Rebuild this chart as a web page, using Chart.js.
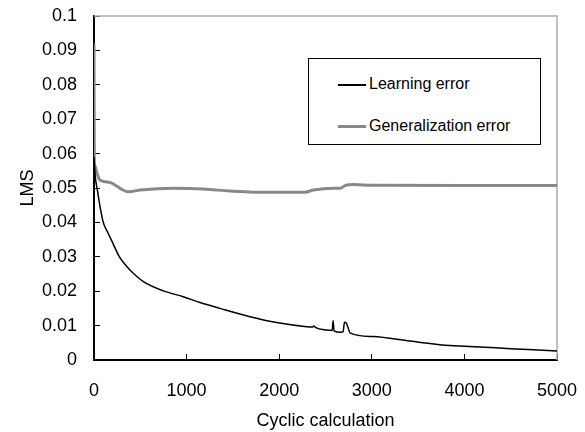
<!DOCTYPE html>
<html>
<head>
<meta charset="utf-8">
<script src="https://cdn.jsdelivr.net/npm/chart.js@4/dist/chart.umd.min.js"></script>
<style>
    body { margin: 0; background: #fff; }
    #wrap { position: relative; width: 585px; height: 432px; }
    #legend {
        position: absolute; left: 308px; top: 58px; width: 231px; height: 85px;
        border: 1px solid #000; background: #fff;
        font-family: "Liberation Sans", Arial, sans-serif; font-size: 16px; color: #000;
    }
    .item { position: absolute; left: 29px; height: 20px; line-height: 20px; white-space: nowrap; }
    .swatch { display: inline-block; width: 28px; vertical-align: middle; margin-right: 3px; }
</style>
</head>
<body>
<div id="wrap">
    <canvas id="myChart" width="585" height="432"></canvas>
    <div id="legend"></div>
</div>
<script>
let seriesNames = ["Learning error", "Generalization error"]

let learnX = [0, 15, 36, 65, 100, 150, 208, 270, 340, 424, 533, 749, 965, 1145, 1361, 1685, 1973, 2297, 2360, 2375, 2390, 2513, 2572, 2582, 2592, 2657, 2690, 2705, 2725, 2745, 2765, 3016, 3412, 3844, 4000, 4500, 5000]
let learnY = [0.059, 0.053, 0.0495, 0.0446, 0.040, 0.037, 0.0337, 0.0302, 0.0276, 0.0252, 0.0228, 0.0201, 0.0184, 0.0167, 0.015, 0.0126, 0.0109, 0.0097, 0.0096, 0.0099, 0.0095, 0.0087, 0.0086, 0.0114, 0.0085, 0.0081, 0.0082, 0.011, 0.0107, 0.0093, 0.0079, 0.0068, 0.0055, 0.0042, 0.004, 0.0033, 0.0026]

let genX = [0, 3, 10, 30, 65, 173, 250, 300, 370, 500, 860, 1180, 1470, 1720, 2280, 2370, 2585, 2660, 2700, 2730, 2800, 3000, 4000, 5000]
let genY = [0.092, 0.0575, 0.0565, 0.0545, 0.0523, 0.0516, 0.0505, 0.0496, 0.0489, 0.0494, 0.0499, 0.0497, 0.0491, 0.0488, 0.0488, 0.0494, 0.0499, 0.0499, 0.0505, 0.0509, 0.051, 0.0508, 0.0507, 0.0507]

let colors = ["#000000", "#888888"]
let widths = [1.5, 3]

function toPoints(xs, ys) {
    let pts = []
    for (let i = 0; i < xs.length; i++) {
        pts.push({ x: xs[i], y: ys[i] })
    }
    return pts
}

Chart.defaults.font.family = '"Liberation Sans", Arial, sans-serif'
Chart.defaults.color = "#000"

// gray frame on top and right of the plot area
let framePlugin = {
    id: "frame",
    beforeDatasetsDraw(chart) {
        let a = chart.chartArea
        let c = chart.ctx
        c.save()
        c.strokeStyle = "#aaaaaa"
        c.lineWidth = 1.5
        c.beginPath()
        c.moveTo(a.left, a.top)
        c.lineTo(a.right, a.top)
        c.lineTo(a.right, a.bottom)
        c.stroke()
        c.restore()
    },
}

let data = {
    datasets: [{
        label: seriesNames[0],
        data: toPoints(learnX, learnY),
        borderColor: colors[0],
        borderWidth: widths[0],
    }, {
        label: seriesNames[1],
        data: toPoints(genX, genY),
        borderColor: colors[1],
        borderWidth: widths[1],
    }],
}

let config = {
    type: "line",
    data: data,
    plugins: [framePlugin],
    options: {
        responsive: false,
        animation: false,
        layout: { padding: { left: 0, right: 28, top: 16, bottom: 0 } },
        elements: {
            point: { radius: 0 },
            line: { cubicInterpolationMode: "monotone" },
        },
        plugins: {
            legend: { display: false },
            tooltip: { enabled: false },
        },
        scales: {
            x: {
                type: "linear",
                min: 0,
                max: 5000,
                afterFit: (s) => {
                    s.height = 72
                    s.paddingLeft = 0
                    s.paddingRight = 0
                },
                border: { color: "#000", width: 2 },
                grid: { drawOnChartArea: false, tickLength: -6, color: "#000" },
                ticks: {
                    stepSize: 1000,
                    padding: 26,
                    maxRotation: 0,
                    font: { size: 18 },
                    callback: (v) => String(v),
                },
                title: { display: true, text: "Cyclic calculation", font: { size: 18 }, padding: { top: 0, bottom: 0 } },
            },
            y: {
                min: 0,
                max: 0.1,
                afterFit: (s) => {
                    s.width = 94
                    s.paddingTop = 0
                    s.paddingBottom = 0
                },
                border: { color: "#000", width: 2 },
                grid: { drawOnChartArea: false, tickLength: -6, color: "#000" },
                ticks: {
                    stepSize: 0.01,
                    padding: 23,
                    font: { size: 18 },
                    callback: (v) => String(parseFloat(v.toFixed(2))),
                },
                title: { display: true, text: "LMS", font: { size: 18 }, padding: { top: 17, bottom: 0 } },
            },
        },
    },
}

let myChart = new Chart(document.getElementById("myChart").getContext("2d"), config)

let legend = document.getElementById("legend")
let rowTops = [15, 57]
for (let i = 0; i < seriesNames.length; i++) {
    let item = document.createElement("div")
    item.className = "item"
    item.style.top = rowTops[i] + "px"
    let sw = document.createElement("span")
    sw.className = "swatch"
    sw.style.height = widths[i] + "px"
    sw.style.background = colors[i]
    item.appendChild(sw)
    item.appendChild(document.createTextNode(seriesNames[i]))
    legend.appendChild(item)
}
</script>
</body>
</html>
